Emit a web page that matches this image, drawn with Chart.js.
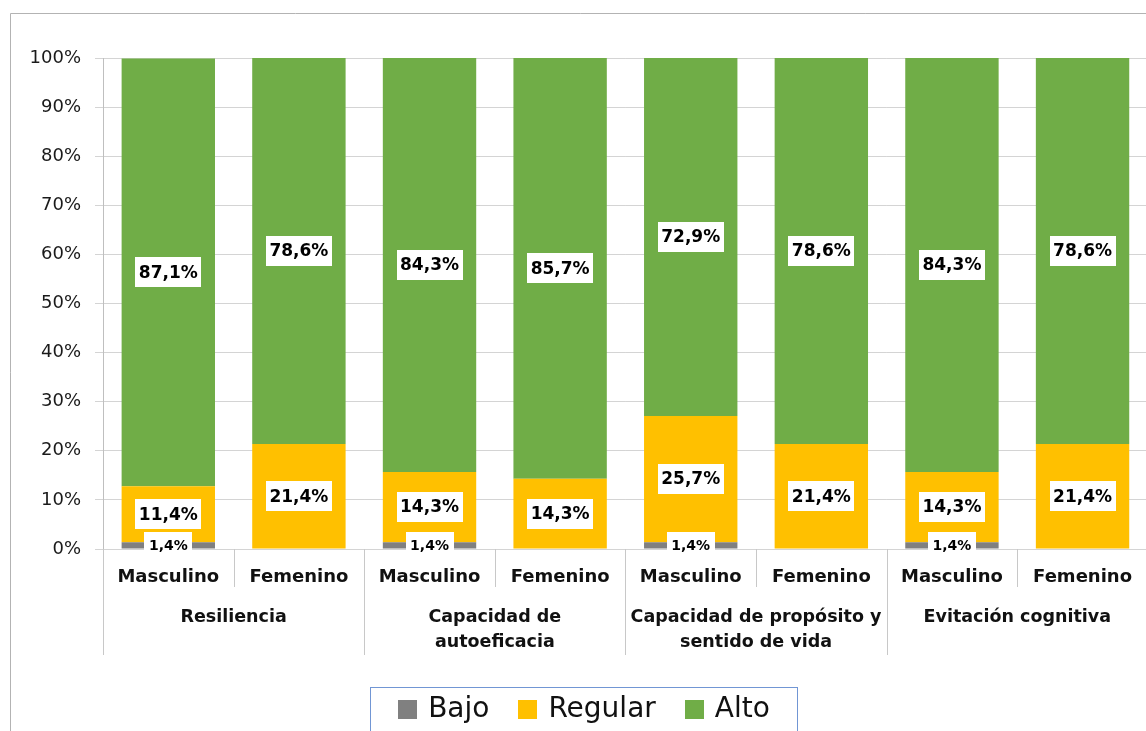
<!DOCTYPE html>
<html>
<head>
<meta charset="utf-8">
<script src="https://cdn.jsdelivr.net/npm/chart.js@4/dist/chart.umd.min.js"></script>
<style>
html,body{margin:0;padding:0;background:#fff;overflow:hidden;}
#wrap{width:1150px;height:731px;position:relative;}
</style>
</head>
<body>
<div id="wrap"><canvas id="c"></canvas></div>
<script>
const categories = ['Masculino','Femenino','Masculino','Femenino','Masculino','Femenino','Masculino','Femenino'];
const groups = [['Resiliencia'],['Capacidad de','autoeficacia'],['Capacidad de propósito y','sentido de vida'],['Evitación cognitiva']];
const bajo = [1.4, 0, 1.4, 0, 1.4, 0, 1.4, 0];
const regular = [11.4, 21.4, 14.3, 14.3, 25.7, 21.4, 14.3, 21.4];
const alto = [87.1, 78.6, 84.3, 85.7, 72.9, 78.6, 84.3, 78.6];
const seriesNames = ['Bajo','Regular','Alto'];
const seriesColors = ['#808080','#FFC000','#70AD47'];
const yTicks = [0,10,20,30,40,50,60,70,80,90,100];

const FONT = '"DejaVu Sans", sans-serif';

const framePlugin = {
  id: 'frame',
  beforeDraw(chart) {
    const ctx = chart.ctx;
    ctx.save();
    ctx.fillStyle = '#fff';
    ctx.fillRect(0,0,chart.width,chart.height);
    ctx.strokeStyle = '#b3b3b3';
    ctx.lineWidth = 1;
    ctx.beginPath();
    ctx.moveTo(10.5, chart.height + 5);
    ctx.lineTo(10.5, 13.5);
    ctx.lineTo(chart.width + 5, 13.5);
    ctx.stroke();
    ctx.restore();
  }
};

const axisPlugin = {
  id: 'groupAxis',
  afterDraw(chart) {
    const ctx = chart.ctx;
    const x = chart.scales.x;
    const bottom = chart.chartArea.bottom;
    const half = (x.getPixelForValue(1) - x.getPixelForValue(0)) / 2;
    ctx.save();
    ctx.strokeStyle = '#c8c8c8';
    ctx.lineWidth = 1;
    for (let i = 0; i <= categories.length; i++) {
      const px = Math.round(x.getPixelForValue(0) - half + i * 2 * half) + 0.5;
      const len = (i % 2 === 0) ? 106 : 38;
      ctx.beginPath();
      ctx.moveTo(px, bottom);
      ctx.lineTo(px, bottom + len);
      ctx.stroke();
    }
    ctx.fillStyle = '#111';
    ctx.font = 'bold 17.5px ' + FONT;
    ctx.textAlign = 'center';
    ctx.textBaseline = 'middle';
    groups.forEach((lines, g) => {
      const cx = (x.getPixelForValue(2*g) + x.getPixelForValue(2*g+1)) / 2;
      lines.forEach((t, k) => {
        ctx.fillText(t, cx, bottom + 68 + k * 25);
      });
    });
    // legend
    const lx = 370.5, ly = 687.5, lw = 427;
    ctx.strokeStyle = '#7196d4';
    ctx.strokeRect(lx, ly, lw, 80);
    ctx.font = '28px ' + FONT;
    const sq = 19, gap1 = 11, gap2 = 29;
    const widths = seriesNames.map(n => ctx.measureText(n).width);
    let total = 0;
    widths.forEach((w, i) => { total += sq + gap1 + w + (i < widths.length - 1 ? gap2 : 0); });
    let cur = lx + lw / 2 - total / 2;
    ctx.textAlign = 'left';
    ctx.textBaseline = 'middle';
    chart.data.datasets.forEach((ds, i) => {
      ctx.fillStyle = ds.backgroundColor;
      ctx.fillRect(Math.round(cur), 700, sq, sq);
      ctx.fillStyle = '#111';
      ctx.fillText(ds.label, cur + sq + gap1, 710);
      cur += sq + gap1 + widths[i] + gap2;
    });
    ctx.restore();
  }
};

const labelPlugin = {
  id: 'valueLabels',
  afterDatasetsDraw(chart) {
    const ctx = chart.ctx;
    ctx.save();
    ctx.textAlign = 'center';
    ctx.textBaseline = 'middle';
    const order = [2, 1, 0];
    order.forEach(di => {
      const meta = chart.getDatasetMeta(di);
      const ds = chart.data.datasets[di];
      const small = di === 0;
      ctx.font = 'bold ' + (small ? 14 : 17) + 'px ' + FONT;
      meta.data.forEach((el, i) => {
        const v = ds.data[i];
        if (!v) return;
        const txt = v.toFixed(1).replace('.', ',') + '%';
        const w = ctx.measureText(txt).width;
        const cy = (el.y + el.base) / 2;
        const padX = small ? 4.5 : 3.5;
        const h = small ? 26 : 30;
        ctx.fillStyle = '#fff';
        ctx.fillRect(Math.round(el.x - w/2 - padX), Math.round(cy - h/2), Math.round(w + 2*padX), h);
        ctx.fillStyle = '#000';
        ctx.fillText(txt, el.x, cy + 1);
      });
    });
    ctx.restore();
  }
};

new Chart(document.getElementById('c'), {
  type: 'bar',
  data: {
    labels: categories,
    datasets: [
      { label: seriesNames[0], data: bajo, backgroundColor: seriesColors[0] },
      { label: seriesNames[1], data: regular, backgroundColor: seriesColors[1] },
      { label: seriesNames[2], data: alto, backgroundColor: seriesColors[2] }
    ]
  },
  options: {
    responsive: true,
    maintainAspectRatio: false,
    animation: false,
    events: [],
    layout: { padding: { left: 10, top: 58, right: 0, bottom: 0 } },
    datasets: { bar: { categoryPercentage: 1, barPercentage: 0.715 } },
    plugins: { legend: { display: false }, tooltip: { enabled: false } },
    scales: {
      x: {
        stacked: true,
        grid: { display: false, drawTicks: false },
        border: { display: false },
        ticks: { color: '#111', font: { family: FONT, size: 18, weight: 'bold' }, padding: 18, maxRotation: 0, autoSkip: false },
        afterFit(s) { s.height = 182; }
      },
      y: {
        stacked: true,
        min: 0, max: 100,
        afterBuildTicks(s) { s.ticks = yTicks.map(v => ({ value: v })); },
        grid: { color: '#d4d4d4', lineWidth: 1, tickLength: 8 },
        border: { color: '#bfbfbf' },
        ticks: { color: '#1a1a1a', font: { family: FONT, size: 18 }, padding: 14, callback: v => v + '%' },
        afterFit(s) { s.width = 93; }
      }
    }
  },
  plugins: [framePlugin, axisPlugin, labelPlugin]
});
</script>
</body>
</html>
